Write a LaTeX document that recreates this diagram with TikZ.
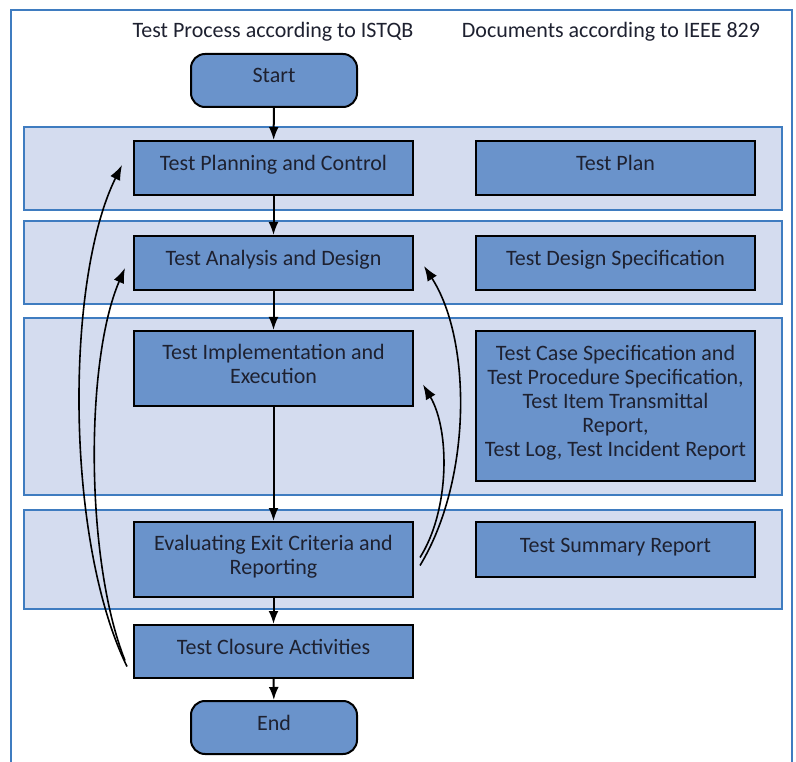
\documentclass[tikz,border=0pt]{standalone}
\usepackage{fontspec}
\setmainfont{Carlito}
\usetikzlibrary{arrows.meta,calc}
\definecolor{boxblue}{HTML}{6A93CB}
\definecolor{bandfill}{HTML}{D4DCEF}
\definecolor{bandline}{HTML}{3F7CC0}
\definecolor{txt}{HTML}{1E2130}
\tikzset{
  band/.style={draw=bandline,fill=bandfill,line width=1.8pt},
  pbox/.style={draw=black,fill=boxblue,line width=2pt,minimum width=279pt,align=center,text=txt,font=\fontsize{22}{24}\selectfont,inner sep=0pt,text height=15pt,text depth=10pt},
  twoline/.style={text height=39pt},
  fiveline/.style={text height=111pt},
  term/.style={pbox,rounded corners=14pt,minimum width=166pt,minimum height=53pt},
  flow/.style={-{Latex[length=13pt,width=10pt]},line width=2pt},
  back/.style={-{Latex[length=15pt,width=11pt]},line width=1.6pt},
  head/.style={text=txt,font=\fontsize{22}{24}\selectfont,inner sep=0pt}
}
\begin{document}
\begin{tikzpicture}[x=1pt,y=-1pt]
\useasboundingbox (0,0) rectangle (796,762);
\begin{scope}
\clip (0,0) rectangle (796,762);
\draw[bandline,line width=1.8pt] (11,780) -- (11,10) -- (792,10) -- (792,780);
\end{scope}
\node[head] (h1) at (273,32) {Test Process according to ISTQB};
\node[head] (h2) at (611,32) {Documents according to IEEE 829};
% bands
\draw[band] (24,127) rectangle (782,210);
\draw[band] (24,221) rectangle (782,304);
\draw[band] (24,318) rectangle (782,495);
\draw[band] (24,510) rectangle (782,609);
% left column
\node[term] (start) at (274,80.5) {Start};
\node[pbox,minimum height=54pt] (plan) at (273.5,168) {Test Planning and Control};
\node[pbox,minimum height=54pt] (anal) at (273.5,263) {Test Analysis and Design};
\node[pbox,twoline,minimum height=75pt] (impl) at (273.5,368.5) {Test Implementation and\\Execution};
\node[pbox,twoline,minimum height=75pt] (eval) at (273.5,559.5) {Evaluating Exit Criteria and\\Reporting};
\node[pbox,minimum height=53pt] (clos) at (273.5,651.5) {Test Closure Activities};
\node[term] (end) at (274,727.5) {End};
% right column
\node[pbox,minimum height=54pt] (tplan) at (615.5,168) {Test Plan};
\node[pbox,minimum height=54pt] (tdes) at (615.5,263) {Test Design Specification};
\node[pbox,fiveline,minimum height=150pt] (tcase) at (615.5,406) {Test Case Specification and\\Test Procedure Specification,\\Test Item Transmittal\\Report,\\Test Log, Test Incident Report};
\node[pbox,minimum height=55pt] (tsum) at (615.5,549.5) {Test Summary Report};
% straight flow
\draw[flow] (start) -- (plan);
\draw[flow] (plan) -- (anal);
\draw[flow] (anal) -- (impl);
\draw[flow] (impl) -- (eval);
\draw[flow] (eval) -- (clos);
\draw[flow] (clos) -- (end);
% feedback curves
\draw[back] ([xshift=-6pt,yshift=-15pt]clos.west) .. controls (65,540) and (65,280) .. ([xshift=-11pt,yshift=3pt]plan.west);
\draw[back] ([xshift=-8pt,yshift=-9pt]clos.west) .. controls (85,560) and (85,360) .. ([xshift=-8pt,yshift=-5pt]anal.west);
\draw[back] ([xshift=6pt,yshift=-6pt]eval.east) .. controls (472,480) and (472,340) .. ([xshift=10pt,yshift=-3pt]anal.east);
\draw[back] ([xshift=6pt,yshift=2pt]eval.east) .. controls (450,510) and (450,430) .. ([xshift=9pt,yshift=-16pt]impl.east);
\end{tikzpicture}
\end{document}
